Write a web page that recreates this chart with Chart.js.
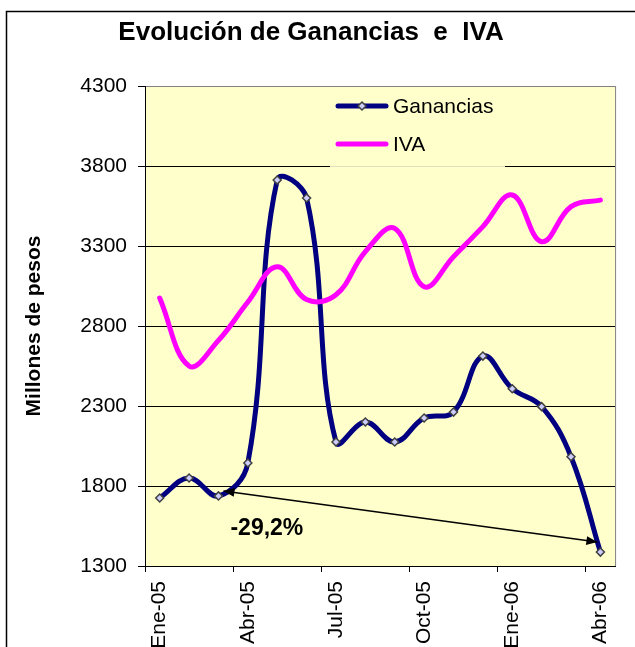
<!DOCTYPE html>
<html>
<head>
<meta charset="utf-8">
<script src="https://cdn.jsdelivr.net/npm/chart.js@4.4.1/dist/chart.umd.min.js"></script>
<style>
  body { margin: 0; background: #fff; }
  canvas { display: block; }
</style>
</head>
<body>
<canvas id="chart" width="635" height="647"></canvas>
<script>
// months shown on the x axis (one label every 3 months)
const months = ['Ene-05', 'Feb-05', 'Mar-05', 'Abr-05', 'May-05', 'Jun-05', 'Jul-05', 'Ago-05',
                'Sep-05', 'Oct-05', 'Nov-05', 'Dic-05', 'Ene-06', 'Feb-06', 'Mar-06', 'Abr-06'];
const ganancias = [1725, 1850, 1738, 1944, 3712, 3600, 2075, 2200, 2075, 2225, 2262, 2612, 2408, 2296, 1983, 1387];
const iva = [2975, 2550, 2710, 2950, 3170, 2965, 2995, 3265, 3410, 3046, 3233, 3421, 3619, 3327, 3546, 3587];
const yMin = 1300;
const yMax = 4300;
const yStep = 500;
const seriesNames = ['Ganancias', 'IVA'];
const changeText = '-29,2%';

Chart.defaults.font.family = '"Liberation Sans", Arial, sans-serif';
Chart.defaults.color = '#000';

function diamond(ctx, x, y, r) {
    ctx.beginPath();
    ctx.moveTo(x, y - r);
    ctx.lineTo(x + r, y);
    ctx.lineTo(x, y + r);
    ctx.lineTo(x - r, y);
    ctx.closePath();
    ctx.fillStyle = '#ccccff';
    ctx.fill();
    ctx.lineWidth = 1.5;
    ctx.strokeStyle = '#404040';
    ctx.stroke();
}

function arrowHead(ctx, from, to) {
    const a = Math.atan2(to.y - from.y, to.x - from.x);
    ctx.beginPath();
    ctx.moveTo(to.x, to.y);
    ctx.lineTo(to.x - 11 * Math.cos(a) + 4.5 * Math.sin(a), to.y - 11 * Math.sin(a) - 4.5 * Math.cos(a));
    ctx.lineTo(to.x - 11 * Math.cos(a) - 4.5 * Math.sin(a), to.y - 11 * Math.sin(a) + 4.5 * Math.cos(a));
    ctx.closePath();
    ctx.fill();
}

// background, legend box, arrow and frame
const decor = {
    id: 'decor',
    beforeDraw(chart) {
        const {ctx, chartArea: a} = chart;
        ctx.save();
        ctx.fillStyle = '#fff';
        ctx.fillRect(0, 0, chart.width, chart.height);
        ctx.fillStyle = '#ffffcc';
        ctx.fillRect(a.left, a.top, a.right - a.left, a.bottom - a.top);
        ctx.restore();
    },
    beforeDatasetsDraw(chart) {
        const {ctx, chartArea: a} = chart;
        ctx.save();
        // legend box hides the grid behind it
        ctx.fillStyle = '#ffffcc';
        ctx.fillRect(a.left + 185, a.top + 1, 175, 80);
        ctx.strokeStyle = '#e0e0c0';
        ctx.lineWidth = 1;
        ctx.beginPath();
        ctx.moveTo(a.left + 185, a.top + 80.5);
        ctx.lineTo(a.left + 360, a.top + 80.5);
        ctx.stroke();
        // plot border on the right
        ctx.strokeStyle = '#808080';
        ctx.beginPath();
        ctx.moveTo(a.right + 0.5, a.top);
        ctx.lineTo(a.right + 0.5, a.bottom);
        ctx.stroke();
        ctx.restore();
    },
    afterDatasetsDraw(chart) {
        const {ctx, chartArea: a} = chart;
        const xs = chart.scales.x;
        const ys = chart.scales.y;
        ctx.save();

        // legend
        const colors = ['#000080', '#ff00ff'];
        seriesNames.forEach((name, i) => {
            const y = a.top + 20 + i * 38;
            ctx.strokeStyle = colors[i];
            ctx.lineWidth = 5;
            ctx.lineCap = 'round';
            ctx.beginPath();
            ctx.moveTo(a.left + 193, y);
            ctx.lineTo(a.left + 241, y);
            ctx.stroke();
            if (i === 0) diamond(ctx, a.left + 217, y, 4);
            ctx.fillStyle = '#000';
            ctx.font = '21px "Liberation Sans", Arial, sans-serif';
            ctx.textBaseline = 'middle';
            ctx.textAlign = 'left';
            ctx.fillText(name, a.left + 248, y + 1);
        });

        // change arrow between Mar-05 and Abr-06
        const p1 = {x: xs.getPixelForValue(2) + 5, y: ys.getPixelForValue(ganancias[2]) - 5};
        const last = ganancias.length - 1;
        const p2 = {x: xs.getPixelForValue(last) - 3, y: ys.getPixelForValue(ganancias[last]) - 10};
        ctx.strokeStyle = '#000';
        ctx.fillStyle = '#000';
        ctx.lineWidth = 1.5;
        ctx.lineCap = 'butt';
        ctx.beginPath();
        ctx.moveTo(p1.x, p1.y);
        ctx.lineTo(p2.x, p2.y);
        ctx.stroke();
        arrowHead(ctx, p2, p1);
        arrowHead(ctx, p1, p2);
        ctx.font = 'bold 23px "Liberation Sans", Arial, sans-serif';
        ctx.textAlign = 'left';
        ctx.textBaseline = 'middle';
        ctx.fillText(changeText, p1.x + 7, p1.y + 38);
        ctx.restore();
    },
    afterDraw(chart) {
        const ctx = chart.ctx;
        ctx.save();
        ctx.strokeStyle = '#000';
        ctx.lineWidth = 1.5;
        ctx.strokeRect(6.5, 11.5, 1000, 1000);
        ctx.restore();
    }
};

new Chart(document.getElementById('chart'), {
    type: 'line',
    data: {
        labels: months,
        datasets: [{
            label: seriesNames[0],
            data: ganancias,
            borderColor: '#000080',
            borderWidth: 5,
            borderCapStyle: 'round',
            borderJoinStyle: 'round',
            tension: 0.4,
            pointStyle: 'rectRot',
            pointRadius: 4,
            pointBackgroundColor: '#ccccff',
            pointBorderColor: '#404040',
            pointBorderWidth: 1.5,
            order: 1
        }, {
            label: seriesNames[1],
            data: iva,
            borderColor: '#ff00ff',
            borderWidth: 5,
            borderCapStyle: 'round',
            borderJoinStyle: 'round',
            tension: 0.4,
            pointRadius: 0,
            order: 0
        }]
    },
    options: {
        responsive: false,
        animation: false,
        devicePixelRatio: 1,
        layout: { padding: { left: 0, right: 13, top: 0, bottom: 0 } },
        plugins: {
            legend: { display: false },
            tooltip: { enabled: false },
            title: {
                display: true,
                text: 'Evolución de Ganancias  e  IVA',
                color: '#000',
                font: { size: 26, weight: 'bold', lineHeight: 1 },
                padding: { top: 20, bottom: 40 }
            }
        },
        scales: {
            x: {
                offset: true,
                grid: {
                    offset: true,
                    drawOnChartArea: false,
                    tickLength: 6,
                    color: c => (c.index % 3 === 0 ? '#000' : 'rgba(0,0,0,0)')
                },
                border: { color: '#000', width: 1 },
                ticks: {
                    autoSkip: false,
                    minRotation: 90,
                    maxRotation: 90,
                    padding: 9,
                    color: '#000',
                    font: { size: 21 },
                    callback: (v, i) => (i % 3 === 0 ? months[i] : '')
                },
                afterFit: s => { s.height = 81; }
            },
            y: {
                min: yMin,
                max: yMax,
                ticks: {
                    stepSize: yStep,
                    padding: 11,
                    color: '#000',
                    font: { size: 21 },
                    callback: v => String(v)
                },
                grid: {
                    color: c => (c.tick && c.tick.value === yMax ? '#808080' : '#000'),
                    tickColor: '#000',
                    tickLength: 7
                },
                border: { color: '#000', width: 1 },
                title: {
                    display: true,
                    text: 'Millones de pesos',
                    color: '#000',
                    font: { size: 21, weight: 'bold' },
                    padding: { top: 22 }
                },
                afterFit: s => { s.width = 145; }
            }
        }
    },
    plugins: [decor]
});
</script>
</body>
</html>
